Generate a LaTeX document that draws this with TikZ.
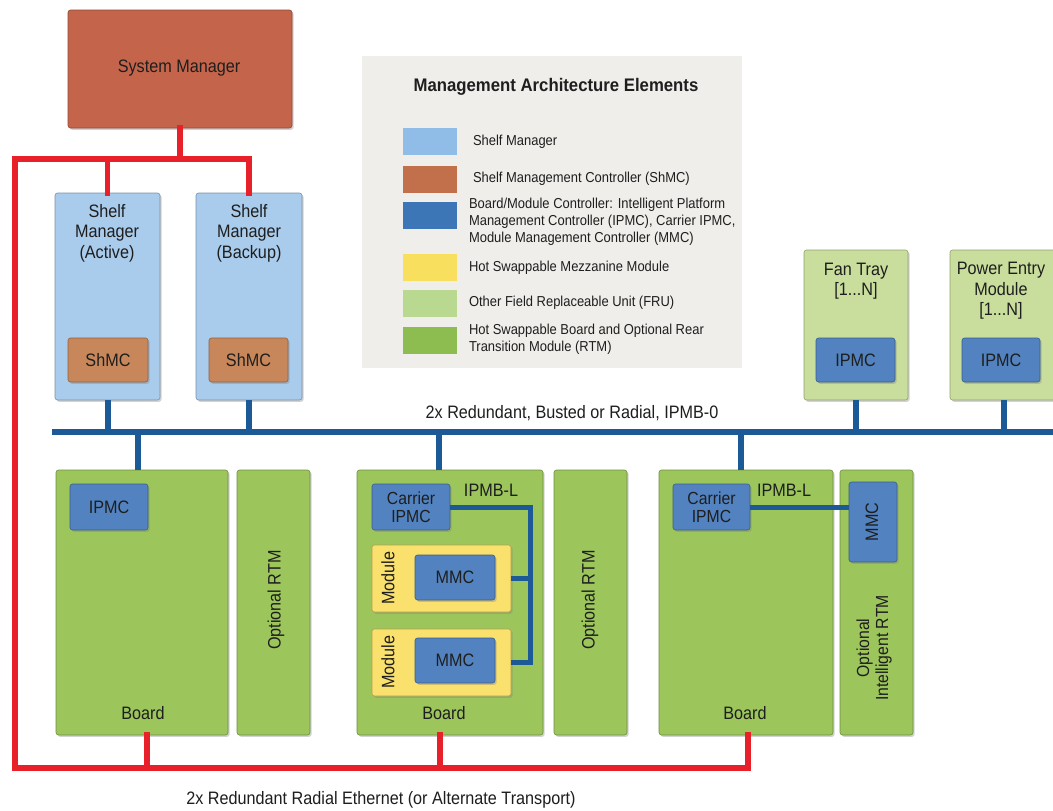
\documentclass[tikz,border=0pt]{standalone}
\usepackage{fontspec}
\setmainfont{Liberation Sans}[FakeStretch=0.9]
\newfontfamily\titlefont{Liberation Sans}[FakeStretch=0.92]
\usetikzlibrary{shadows}

\definecolor{sysred}{HTML}{C4654B}
\definecolor{shelfblue}{HTML}{A9CBEC}
\definecolor{shmcbrown}{HTML}{C8875A}
\definecolor{ctrlblue}{HTML}{5283C0}
\definecolor{boardgreen}{HTML}{9CC55B}
\definecolor{frugreen}{HTML}{C9DE9C}
\definecolor{modyellow}{HTML}{FAE06C}
\definecolor{legendbg}{HTML}{EFEEEB}
\definecolor{ethred}{HTML}{E8202A}
\definecolor{busblue}{HTML}{1B5A97}
\definecolor{ink}{HTML}{1E1E1E}
% legend swatch colours
\definecolor{swshelf}{HTML}{8FBDE7}
\definecolor{swshmc}{HTML}{C2704C}
\definecolor{swctrl}{HTML}{3C76B7}
\definecolor{swmod}{HTML}{F9DF5E}
\definecolor{swfru}{HTML}{B9D890}
\definecolor{swboard}{HTML}{8DBD50}

\newcommand\lblfont{\fontsize{18}{20.5}\selectfont}
\newcommand\tightfont{\fontsize{17.5}{18}\selectfont}
\newcommand\rtmfont{\fontsize{17.5}{19}\selectfont}
\newcommand\legfont{\fontsize{14.4}{16.8}\selectfont}
\newcommand\legtitlefont{\titlefont\bfseries\fontsize{18.2}{20}\selectfont}

\begin{document}
\begin{tikzpicture}[x=1pt, y=-1pt,
  every node/.style={outer sep=0pt, inner sep=0pt, text=ink},
  unit/.style={draw=#1!72!black, fill=#1, line width=0.6pt, rounded corners=2.5pt,
    anchor=north west, font=\lblfont, align=center,
    drop shadow={shadow xshift=1.6pt, shadow yshift=-1.8pt, opacity=0.35}},
  sz/.style 2 args={minimum width=#1, minimum height=#2},
  lbl/.style={font=\lblfont, align=center},
  swatch/.style={fill=#1, draw=none, anchor=north west, minimum width=54, minimum height=27},
  legtext/.style={font=\legfont, align=left, anchor=west},
  eth/.style={draw=ethred, line width=5.5pt, line cap=rect, line join=miter},
  bus/.style={draw=busblue, line width=6pt, line join=miter},
  ipmbl/.style={draw=busblue, line width=5pt, line join=miter}
]
\useasboundingbox (0,0) rectangle (1053,811);
\fill[white] (0,0) rectangle (1053,811);

% ---------- legend ----------
\node[fill=legendbg, anchor=north west, minimum width=380, minimum height=312] (legend) at (362,56) {};
\node[font=\legtitlefont] (legtitle) at (556,87) {Management Architecture Elements};
\node[swatch=swshelf] (sw1) at (403,128) {};
\node[swatch=swshmc] (sw2) at (403,166) {};
\node[swatch=swctrl] (sw3) at (403,202) {};
\node[swatch=swmod] (sw4) at (403,254) {};
\node[swatch=swfru] (sw5) at (403,290) {};
\node[swatch=swboard] (sw6) at (403,327) {};
\node[legtext] (lt1) at (473,142) {Shelf Manager};
\node[legtext] (lt2) at (473,179) {Shelf Management Controller (ShMC)};
\node[legtext, anchor=north west] (lt3) at (469,198) {Board/Module Controller: Intelligent Platform\\Management Controller (IPMC), Carrier IPMC,\\Module Management Controller (MMC)};
\node[legtext] (lt4) at (469,268) {Hot Swappable Mezzanine Module};
\node[legtext] (lt5) at (469,303) {Other Field Replaceable Unit (FRU)};
\node[legtext, anchor=north west] (lt6) at (469,324) {Hot Swappable Board and Optional Rear\\Transition Module (RTM)};

% ---------- boxes ----------
\node[unit=sysred, sz={224}{118}] (sysmgr) at (68,10) {};
\node[lbl] (sysmgr-t) at (179,68) {System Manager};

\node[unit=shelfblue, sz={105}{207}] (smA) at (55,193) {};
\node[unit=shelfblue, sz={106}{207}] (smB) at (196,193) {};
\node[lbl] (smA-t) at (107,233) {Shelf\\Manager\\(Active)};
\node[lbl] (smB-t) at (249,233) {Shelf\\Manager\\(Backup)};
\node[unit=shmcbrown, sz={80}{44}] (shmcA) at (68,338) {ShMC};
\node[unit=shmcbrown, sz={79}{44}] (shmcB) at (209,338) {ShMC};

\node[unit=frugreen, sz={104}{150}] (fan) at (804,250) {};
\node[lbl] (fan-t) at (856,281) {Fan Tray\\{[}1...N]};
\node[unit=ctrlblue, sz={79}{44}] (fanipmc) at (816,338) {IPMC};
\node[unit=frugreen, sz={108}{150}] (pem) at (950,250) {};
\node[lbl] (pem-t) at (1001,291) {Power Entry\\Module\\{[}1...N]};
\node[unit=ctrlblue, sz={78}{44}] (pemipmc) at (962,338) {IPMC};

% boards and rear transition modules
\node[unit=boardgreen, sz={172}{265}] (board1) at (56,470) {};
\node[unit=ctrlblue, sz={78}{46}] (ipmc1) at (70,484) {IPMC};
\node[lbl] (board1-t) at (143,713) {Board};
\node[unit=boardgreen, sz={73}{265}] (rtm1) at (237,470) {};
\node[lbl, rotate=90] (rtm1-t) at (276,600) {Optional RTM};

\node[unit=boardgreen, sz={186}{265}] (board2) at (357,470) {};
\node[unit=ctrlblue, sz={78}{46}, font=\tightfont] (cip2) at (372,484) {Carrier\\IPMC};
\node[lbl] (ipmbl2-t) at (491,490) {IPMB-L};
\node[unit=modyellow, sz={139}{67}] (mod1) at (372,545) {};
\node[lbl, rotate=90] (mod1-t) at (388,578) {Module};
\node[unit=ctrlblue, sz={80}{45}] (mmc1) at (415,555) {MMC};
\node[unit=modyellow, sz={139}{67}] (mod2) at (372,629) {};
\node[lbl, rotate=90] (mod2-t) at (388,662) {Module};
\node[unit=ctrlblue, sz={80}{45}] (mmc2) at (415,638) {MMC};
\node[lbl] (board2-t) at (444,713) {Board};
\node[unit=boardgreen, sz={73}{265}] (rtm2) at (554,470) {};
\node[lbl, rotate=90] (rtm2-t) at (590,600) {Optional RTM};

\node[unit=boardgreen, sz={174}{265}] (board3) at (659,470) {};
\node[unit=ctrlblue, sz={77}{46}, font=\tightfont] (cip3) at (673,484) {Carrier\\IPMC};
\node[lbl] (ipmbl3-t) at (784,490) {IPMB-L};
\node[lbl] (board3-t) at (745,713) {Board};
\node[unit=boardgreen, sz={73}{265}] (irtm) at (840,470) {};
\node[unit=ctrlblue, sz={48}{80}] (mmc3) at (849,482) {};
\node[lbl, rotate=90] (mmc3-t) at (872,522) {MMC};
\node[lbl, rotate=90, font=\rtmfont] (irtm-t) at (874,648) {Optional\\Intelligent RTM};

% ---------- IPMB-0 bus ----------
\coordinate (busL) at (52,432);
\coordinate (busR) at (1053,432);
\draw[bus] (busL) -- (busR);
\node[lbl] (bus-t) at (572,413) {2x Redundant, Busted or Radial, IPMB-0};
\draw[bus] (smA.south) -- (smA.south |- busL);
\draw[bus] (smB.south) -- (smB.south |- busL);
\draw[bus] (fan.south) -- (fan.south |- busL);
\draw[bus] (pem.south) -- (pem.south |- busL);
\draw[bus] (138,0 |- board1.north) -- (138,0 |- busL);
\draw[bus] (439,0 |- board2.north) -- (439,0 |- busL);
\draw[bus] (741,0 |- board3.north) -- (741,0 |- busL);

% ---------- IPMB-L ----------
\coordinate (lj) at (530,507);
\draw[ipmbl] (cip2.east |- lj) -- (lj) -- (lj |- mod2.east) -- (mod2.east);
\draw[ipmbl] (mod1.east) -- (lj |- mod1.east);
\draw[ipmbl] (cip3.east |- lj) -- (mmc3.west |- lj);

% ---------- Ethernet ----------
\coordinate (rtop) at (15,159);
\coordinate (rbot) at (15,768);
\draw[eth] (sysmgr.south) -- (sysmgr.south |- rtop);
\draw[eth] (smA.north) -- (smA.north |- rtop);
\draw[eth] (rbot) -- (rtop) -- (smB.north |- rtop) -- (smB.north);
\draw[eth] (rbot) -- (748,0 |- rbot) -- (748,0 |- board3.south);
\draw[eth] (147,0 |- board1.south) -- (147,0 |- rbot);
\draw[eth] (440,0 |- board2.south) -- (440,0 |- rbot);
\node[lbl] (eth-t) at (381,800) {2x Redundant Radial Ethernet (or Alternate Transport)};
\end{tikzpicture}
\end{document}
